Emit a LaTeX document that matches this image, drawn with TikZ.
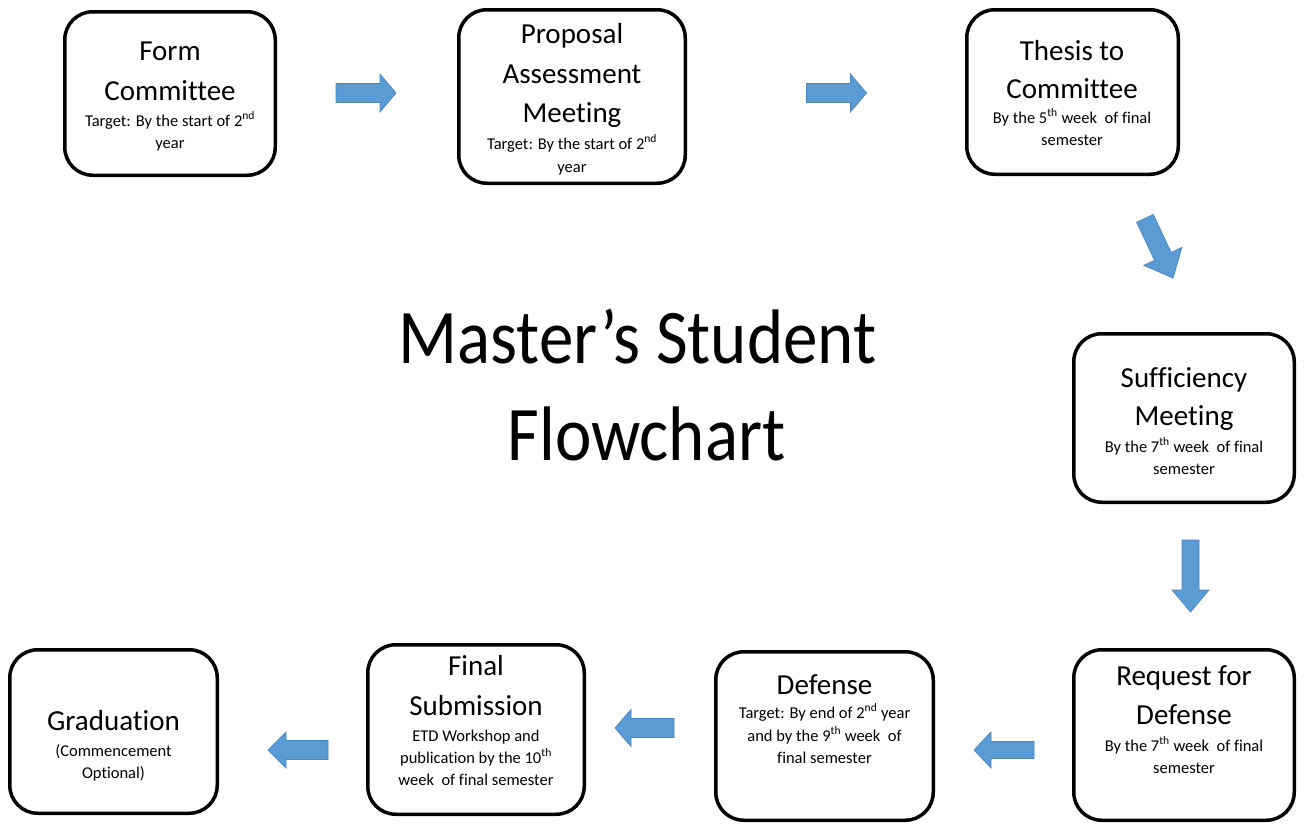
\documentclass[tikz,border=0pt]{standalone}
\usepackage{fontspec}
\setmainfont{Carlito}[Ligatures=NoCommon]
\usepackage{graphicx}
\definecolor{arrowblue}{HTML}{5B9BD5}
\definecolor{arrowedge}{HTML}{4A86BE}
\newcommand\blockarrow[7]{%
  \begin{scope}[shift={(#1,#2)}, rotate=#3]
    \fill[blockarrowstyle] ({-#4/2},{-#6}) -- ({#4/2-#5},{-#6}) -- ({#4/2-#5},{-#7})
      -- ({#4/2},0) -- ({#4/2-#5},{#7}) -- ({#4/2-#5},{#6}) -- ({-#4/2},{#6}) -- cycle;
  \end{scope}}
\newcommand\tline[5]{\node[#1] (#2) at (#3,#4) {#5};}
\tikzset{
  blockarrowstyle/.style={fill=arrowblue, draw=arrowedge, line width=0.7},
  stepbox/.style={draw=black, line width=3.5, rounded corners=28, inner sep=0, fill=white},
  bigtxt/.style={anchor=base, inner sep=0, font=\fontsize{29}{35}\selectfont},
  smalltxt/.style={anchor=base, inner sep=0, font=\fontsize{16.5}{20}\selectfont},
  titletxt/.style={anchor=base, inner sep=0, font=\fontsize{69}{80}\selectfont}
}
\begin{document}
\begin{tikzpicture}[x=1pt, y=-1pt]
\fill[white] (0,0) rectangle (1306,825);
\useasboundingbox (0,0) rectangle (1306,825);

% boxes
\node[stepbox, minimum width=210.5, minimum height=163.5] (b1) at (170,93.5) {};
\node[stepbox, minimum width=226.5, minimum height=173.5] (b2) at (572,96.5) {};
\node[stepbox, minimum width=211.5, minimum height=164.5] (b3) at (1072.5,92) {};
\node[stepbox, minimum width=220.5, minimum height=168.5] (b4) at (1184,418) {};
\node[stepbox, minimum width=220.5, minimum height=170.5] (b5) at (1184,735) {};
\node[stepbox, minimum width=217.5, minimum height=168.5] (b6) at (824.5,736) {};
\node[stepbox, minimum width=216.5, minimum height=169.5] (b7) at (476,729.5) {};
\node[stepbox, minimum width=207.5, minimum height=163.5] (b8) at (113.5,731.5) {};

% box 1
\tline{bigtxt}{t1a}{170}{60}{Form}
\tline{bigtxt}{t1b}{170}{100}{Committee}
\tline{smalltxt}{t1c}{170}{126}{Target: By the start of 2\textsuperscript{nd}}
\tline{smalltxt}{t1d}{170}{148}{year}
% box 2
\tline{bigtxt}{t2a}{572}{43}{Proposal}
\tline{bigtxt}{t2b}{572}{83}{Assessment}
\tline{bigtxt}{t2c}{572}{122}{Meeting}
\tline{smalltxt}{t2d}{572}{149}{Target: By the start of 2\textsuperscript{nd}}
\tline{smalltxt}{t2e}{572}{172}{year}
% box 3
\tline{bigtxt}{t3a}{1072}{60}{Thesis to}
\tline{bigtxt}{t3b}{1072}{98}{Committee}
\tline{smalltxt}{t3c}{1072}{123}{By the 5\textsuperscript{th} week\ \ of final}
\tline{smalltxt}{t3d}{1072}{145}{semester}
% box 4
\tline{bigtxt}{t4a}{1184}{387}{Sufficiency}
\tline{bigtxt}{t4b}{1184}{425}{Meeting}
\tline{smalltxt}{t4c}{1184}{452}{By the 7\textsuperscript{th} week\ \ of final}
\tline{smalltxt}{t4d}{1184}{474}{semester}
% box 5
\tline{bigtxt}{t5a}{1184}{685}{Request for}
\tline{bigtxt}{t5b}{1184}{724}{Defense}
\tline{smalltxt}{t5c}{1184}{751}{By the 7\textsuperscript{th} week\ \ of final}
\tline{smalltxt}{t5d}{1184}{773}{semester}
% box 6
\tline{bigtxt}{t6a}{824.5}{694}{Defense}
\tline{smalltxt}{t6b}{824.5}{718}{Target: By end of 2\textsuperscript{nd} year}
\tline{smalltxt}{t6c}{824.5}{741}{and by the 9\textsuperscript{th} week\ \ of}
\tline{smalltxt}{t6d}{824.5}{763}{final semester}
% box 7
\tline{bigtxt}{t7a}{476}{675}{Final}
\tline{bigtxt}{t7b}{476}{715}{Submission}
\tline{smalltxt}{t7c}{476}{741}{ETD Workshop and}
\tline{smalltxt}{t7d}{476}{763}{publication by the 10\textsuperscript{th}}
\tline{smalltxt}{t7e}{476}{785}{week\ \ of final semester}
% box 8
\tline{bigtxt}{t8a}{113.5}{730}{Graduation}
\tline{smalltxt}{t8b}{113.5}{756}{(Commencement}
\tline{smalltxt}{t8c}{113.5}{778}{Optional)}

% title
\tline{titletxt}{ttl1}{637.5}{363}{\scalebox{1}[1.12]{Master’s Student}}
\tline{titletxt}{ttl2}{646.5}{460}{\scalebox{1}[1.12]{Flowchart}}

% block arrows: cx, cy, angle, length, head length, shaft half, head half
\blockarrow{366}{93}{0}{60}{16}{9.5}{19}
\blockarrow{836.5}{93}{0}{60}{16}{9.5}{19}
\blockarrow{1159}{248.25}{-64.8}{66}{24}{9.2}{21}
\blockarrow{1190.5}{576}{-90}{72}{22}{8.5}{18.5}
\blockarrow{1004}{750}{180}{60}{17}{8.5}{18}
\blockarrow{644.5}{728}{180}{59}{16}{9.5}{18.5}
\blockarrow{298}{750}{180}{60}{18}{9.5}{18}
\end{tikzpicture}
\end{document}
